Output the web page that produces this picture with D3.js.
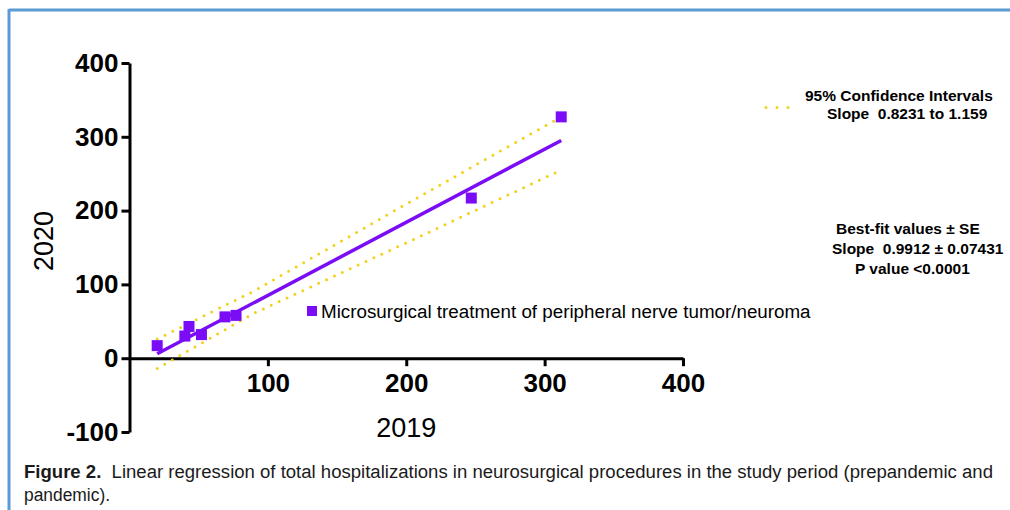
<!DOCTYPE html>
<html><head><meta charset="utf-8">
<script src="https://cdn.jsdelivr.net/npm/d3@7"></script>
<style>
html,body{margin:0;padding:0;background:#fff;}
svg{display:block;}
text{white-space:pre;}
</style></head>
<body>
<svg id="c" width="1010" height="510"></svg>
<script>
// ---- data ----
const x2019 = [20, 40, 43, 52, 69, 77, 247, 312];
const y2020 = [17, 30, 43, 32, 56, 58, 217, 327];
const fitX = [20, 312];
const fitY = [6, 295];
const bandX = [20, 90, 202, 312];
const bandUpper = [26, 91, 211, 327];
const bandLower = [-14, 61, 158, 255];
const xTicks = [100, 200, 300, 400];
const yTicks = [-100, 0, 100, 200, 300, 400];
const seriesName = "Microsurgical treatment of peripheral nerve tumor/neuroma";
const ciText = ["95% Confidence Intervals", "Slope  0.8231 to 1.159"];
const fitText = ["Best-fit values \u00b1 SE", "Slope  0.9912 \u00b1 0.07431", "P value <0.0001"];
const xTitle = "2019", yTitle = "2020";

const purple = "#7a0cf6", gold = "#f2d11c";
const svg = d3.select("#c");
const FF = "'Liberation Sans', Arial, sans-serif";

// frame
svg.append("line").attr("x1",9).attr("x2",1010).attr("y1",10).attr("y2",10)
  .attr("stroke","#5b9bd5").attr("stroke-width",3);
svg.append("line").attr("x1",9).attr("x2",9).attr("y1",9).attr("y2",510)
  .attr("stroke","#5b9bd5").attr("stroke-width",3);

const x = d3.scaleLinear().domain([0,400]).range([129.5,683]);
const y = d3.scaleLinear().domain([-100,400]).range([432,63]);

// axes
const gy = svg.append("g").attr("transform",`translate(${x(0)},0)`)
  .call(d3.axisLeft(y).tickValues(yTicks).tickFormat(d=>String(d)).tickSize(8).tickSizeOuter(0).tickPadding(3));
const gx = svg.append("g").attr("transform",`translate(0,${y(0)})`)
  .call(d3.axisBottom(x).tickValues(xTicks).tickFormat(d=>String(d)).tickSize(8).tickSizeOuter(0).tickPadding(7));
[gx,gy].forEach(g=>{
  g.select(".domain").attr("stroke","#000").attr("stroke-width",3);
  g.selectAll(".tick line").attr("stroke","#000").attr("stroke-width",3);
  g.selectAll(".tick text").attr("fill","#000")
    .style("font-family",FF).style("font-weight","bold").style("font-size","26px");
});

// confidence bands
const lineGen = d3.line().x(d=>x(d[0])).y(d=>y(d[1]));
[bandUpper, bandLower].forEach(arr=>{
  svg.append("path").datum(bandX.map((v,i)=>[v,arr[i]]))
    .attr("d",lineGen).attr("fill","none").attr("stroke",gold)
    .attr("stroke-width",3).attr("stroke-linecap","round")
    .attr("stroke-dasharray","0 8.7");
});

// fit line
svg.append("path").datum(fitX.map((v,i)=>[v,fitY[i]]))
  .attr("d",lineGen).attr("fill","none").attr("stroke",purple)
  .attr("stroke-width",3.5);

// points
const s = 11;
svg.append("g").selectAll("rect").data(x2019.map((v,i)=>[v,y2020[i]]))
  .join("rect").attr("x",d=>x(d[0])-s/2).attr("y",d=>y(d[1])-s/2)
  .attr("width",s).attr("height",s).attr("fill",purple);

// series legend
svg.append("rect").attr("x",307).attr("y",306).attr("width",10).attr("height",10).attr("fill",purple);
svg.append("text").attr("x",321).attr("y",318).text(seriesName)
  .style("font-family",FF).style("font-size","18.8px").attr("fill","#000");

// axis titles
svg.append("text").attr("x",x(200)).attr("y",437).attr("text-anchor","middle").text(xTitle)
  .style("font-family",FF).style("font-size","27px");
svg.append("text").attr("transform","translate(53,241) rotate(-90)").attr("text-anchor","middle").text(yTitle)
  .style("font-family",FF).style("font-size","27px");

// CI legend
svg.append("line").attr("x1",766).attr("x2",790).attr("y1",107.5).attr("y2",107.5)
  .attr("stroke",gold).attr("stroke-width",3).attr("stroke-linecap","round").attr("stroke-dasharray","0 11");
const stat = (t,xx,yy)=>svg.append("text").attr("x",xx).attr("y",yy).text(t)
  .style("font-family",FF).style("font-weight","bold").style("font-size","15.5px").attr("fill","#000");
stat(ciText[0],805,101);
stat(ciText[1],827,119);
stat(fitText[0],836,234);
stat(fitText[1],832,254);
stat(fitText[2],855,274);

// caption
const cap = svg.append("text").attr("x",24).attr("y",478)
  .attr("textLength",969).attr("lengthAdjust","spacingAndGlyphs")
  .style("font-family","'Liberation Sans Narrow','Arial Narrow','Liberation Sans',sans-serif")
  .style("font-size","18px").attr("fill","#1a1a1a");
cap.append("tspan").style("font-weight","bold").text("Figure 2.  ");
cap.append("tspan").text("Linear regression of total hospitalizations in neurosurgical procedures in the study period (prepandemic and");
svg.append("text").attr("x",24).attr("y",501)
  .attr("textLength",86).attr("lengthAdjust","spacingAndGlyphs")
  .style("font-family","'Liberation Sans Narrow','Arial Narrow','Liberation Sans',sans-serif")
  .style("font-size","18px").attr("fill","#1a1a1a").text("pandemic).");
</script>
</body></html>
